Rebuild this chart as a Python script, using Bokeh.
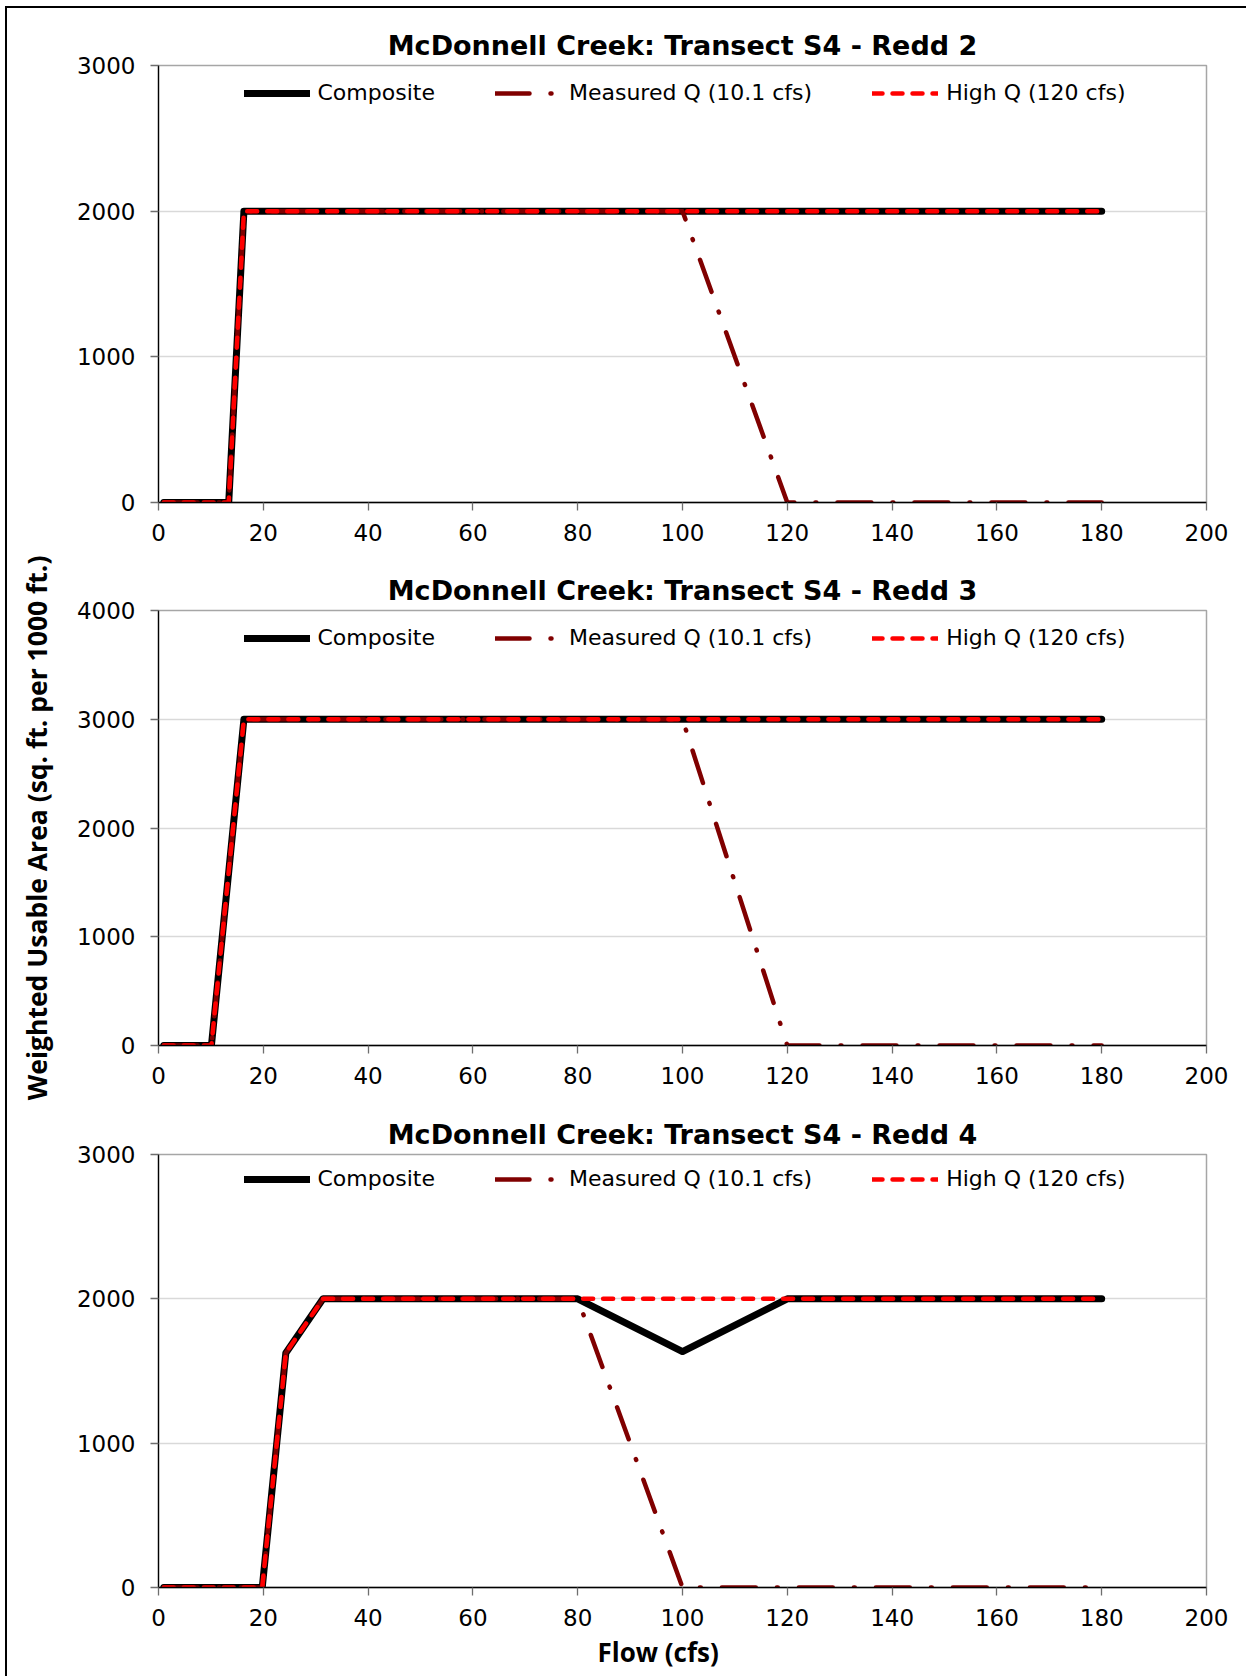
from bokeh.plotting import figure
from bokeh.models import Range1d, SingleIntervalTicker, Legend, LegendItem, Title
from bokeh.layouts import column
from bokeh.embed import file_html
from bokeh.resources import INLINE

# ---------------- data ----------------
panel_titles = [
    "McDonnell Creek: Transect S4 - Redd 2",
    "McDonnell Creek: Transect S4 - Redd 3",
    "McDonnell Creek: Transect S4 - Redd 4",
]
legend_labels = ["Composite", "Measured Q (10.1 cfs)", "High Q (120 cfs)"]
x_label = "Flow (cfs)"
y_label = "Weighted Usable Area (sq. ft. per 1000 ft.)"
y_max = [3000, 4000, 3000]

# Redd 2
redd2_comp_flow = [1, 13.4, 16.3, 180]
redd2_comp_wua = [0, 0, 2000, 2000]
redd2_meas_flow = [1, 13.4, 16.3, 100, 120, 180]
redd2_meas_wua = [0, 0, 2000, 2000, 0, 0]
redd2_high_flow = [1, 13.4, 16.3, 180]
redd2_high_wua = [0, 0, 2000, 2000]

# Redd 3
redd3_comp_flow = [1, 10.1, 16.3, 180]
redd3_comp_wua = [0, 0, 3000, 3000]
redd3_meas_flow = [1, 10.1, 16.3, 100, 120, 180]
redd3_meas_wua = [0, 0, 3000, 3000, 0, 0]
redd3_high_flow = [1, 10.1, 16.3, 180]
redd3_high_wua = [0, 0, 3000, 3000]

# Redd 4
redd4_comp_flow = [1, 19.8, 24.3, 31.4, 80, 100, 120, 180]
redd4_comp_wua = [0, 0, 1625, 2000, 2000, 1635, 2000, 2000]
redd4_meas_flow = [1, 19.8, 24.3, 31.4, 80, 100, 180]
redd4_meas_wua = [0, 0, 1625, 2000, 2000, 0, 0]
redd4_high_flow = [1, 19.8, 24.3, 31.4, 180]
redd4_high_wua = [0, 0, 1625, 2000, 2000]

series = [
    ((redd2_comp_flow, redd2_comp_wua), (redd2_meas_flow, redd2_meas_wua), (redd2_high_flow, redd2_high_wua)),
    ((redd3_comp_flow, redd3_comp_wua), (redd3_meas_flow, redd3_meas_wua), (redd3_high_flow, redd3_high_wua)),
    ((redd4_comp_flow, redd4_comp_wua), (redd4_meas_flow, redd4_meas_wua), (redd4_high_flow, redd4_high_wua)),
]

# ---------------- layout (pixels) ----------------
FIG_W = 1239
heights = [543, 561, 564]
borders_top = [57, 59, 41]
borders_bottom = [49, 67, 87]

TICK_FONT = "DejaVu Sans"


def make_panel(i):
    comp, meas, high = series[i]
    p = figure(
        width=FIG_W, height=heights[i],
        x_range=Range1d(0, 200), y_range=Range1d(0, y_max[i]),
        output_backend="svg", toolbar_location=None,
        min_border_left=151, min_border_right=40,
        min_border_top=borders_top[i], min_border_bottom=borders_bottom[i],
        background_fill_color="white", border_fill_color="white",
        outline_line_color="#a6a6a6", outline_line_width=1.5,
    )
    p.title.text = panel_titles[i]
    p.title.align = "center"
    p.title.text_font = "DejaVu Sans"
    p.title.text_font_style = "bold"
    p.title.text_font_size = "27px"
    p.title.text_color = "black"
    p.title.standoff = 9

    p.xaxis.ticker = SingleIntervalTicker(interval=20, num_minor_ticks=0)
    p.yaxis.ticker = SingleIntervalTicker(interval=1000, num_minor_ticks=0)
    for ax in (p.xaxis[0], p.yaxis[0]):
        ax.axis_line_color = "black"
        ax.axis_line_width = 1.3
        ax.major_tick_line_color = "#6e6e6e"
        ax.major_tick_line_width = 1.3
        ax.major_tick_out = 8
        ax.major_tick_in = 0
        ax.minor_tick_line_color = None
        ax.major_label_text_font = TICK_FONT
        ax.major_label_text_font_size = "23px"
        ax.major_label_text_color = "black"
    p.xaxis.major_label_standoff = 13
    p.yaxis.major_label_standoff = 15

    p.xgrid.visible = False
    p.ygrid.grid_line_color = "#d9d9d9"
    p.ygrid.grid_line_width = 1.3

    r1 = p.line(comp[0], comp[1], line_color="black", line_width=7,
                line_join="round", line_cap="round")
    r2 = p.line(meas[0], meas[1], line_color="#800000", line_width=4.5,
                line_dash="34 21 1 21", line_join="round", line_cap="round")
    r3 = p.line(high[0], high[1], line_color="#ff0000", line_width=4.5,
                line_dash="10 10", line_join="round", line_cap="round")

    frame_h = heights[i] - borders_top[i] - borders_bottom[i]
    legend = Legend(
        items=[LegendItem(label=legend_labels[0], renderers=[r1]),
               LegendItem(label=legend_labels[1], renderers=[r2]),
               LegendItem(label=legend_labels[2], renderers=[r3])],
        location=(85.5, frame_h - 27.5 - 15),
        orientation="horizontal",
        padding=0, margin=0, spacing=60,
        glyph_width=66, glyph_height=30, label_height=30,
        label_standoff=8,
        label_text_font=TICK_FONT, label_text_font_size="22px",
        label_text_color="black",
        border_line_color=None, background_fill_alpha=0,
    )
    p.add_layout(legend)
    return p


p1 = make_panel(0)
p2 = make_panel(1)
p3 = make_panel(2)

p2.yaxis.axis_label = y_label
p2.yaxis.axis_label_text_font = "Open Sans"
p2.yaxis.axis_label_text_font_style = "bold"
p2.yaxis.axis_label_text_font_size = "26.5px"
p2.yaxis.axis_label_text_color = "black"
p2.yaxis.axis_label_standoff = 19

flow_title = Title(text=x_label, align="left", offset=439, vertical_align="top",
                   standoff=10, text_font="Open Sans", text_font_style="bold",
                   text_font_size="26px", text_color="black")
p3.add_layout(flow_title, "below")

layout = column(p1, p2, p3, spacing=0,
                styles={"border-left": "2px solid #000", "border-top": "2px solid #000",
                        "margin-left": "5px", "margin-top": "6px",
                        "box-sizing": "content-box", "overflow": "visible"})

open("out.html", "w").write(file_html(layout, INLINE))
